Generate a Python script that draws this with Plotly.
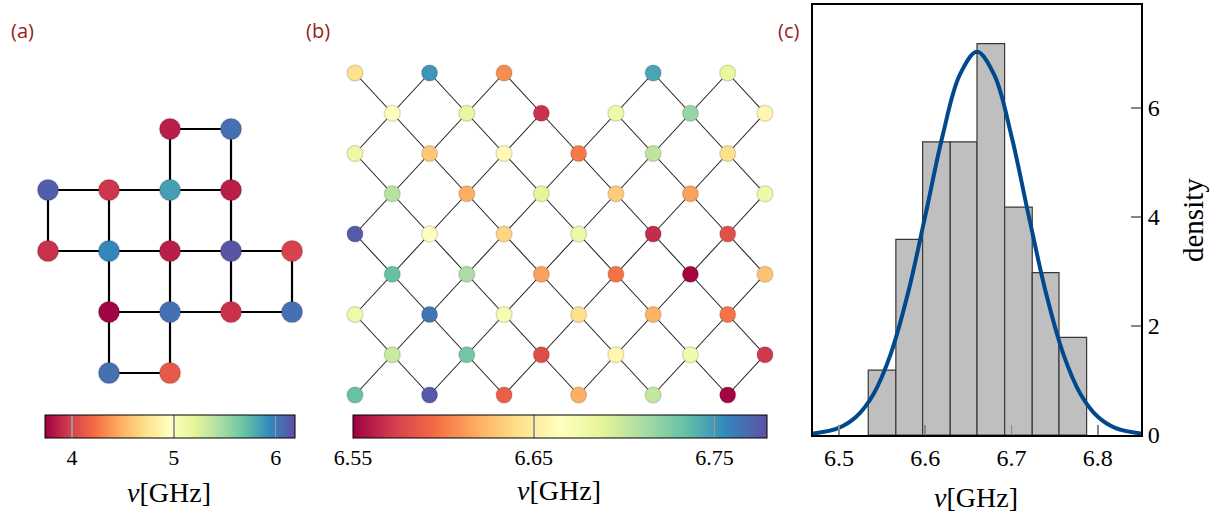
import plotly.graph_objects as go

W, H = 1219, 514

# ---------------- Panel (a): small lattice of qubits ----------------
a_cols = [2, 3, 0, 1, 2, 3, 0, 1, 2, 3, 4, 1, 2, 3, 4, 1, 2]
a_rows = [0, 0, 1, 1, 1, 1, 2, 2, 2, 2, 2, 3, 3, 3, 3, 4, 4]
a_freq = [3.85, 6.05, 6.12, 3.95, 5.85, 3.85, 3.93, 5.95, 3.85, 6.17, 4.00,
          3.75, 6.05, 3.93, 6.05, 6.05, 4.12]
a_cmin, a_cmax = 3.735, 6.19
a_ticks = [4, 5, 6]

# ---------------- Panel (b): diagonal lattice ----------------
b_row_cols = [
    [0, 2, 4, 8, 10],
    [1, 3, 5, 7, 9, 11],
    [0, 2, 4, 6, 8, 10],
    [1, 3, 5, 7, 9, 11],
    [0, 2, 4, 6, 8, 10],
    [1, 3, 5, 7, 9, 11],
    [0, 2, 4, 6, 8, 10],
    [1, 3, 5, 7, 9, 11],
    [0, 2, 4, 6, 8, 10],
]
b_row_freq = [
    [6.642, 6.751, 6.607, 6.745, 6.683],
    [6.665, 6.683, 6.568, 6.678, 6.717, 6.658],
    [6.680, 6.630, 6.660, 6.600, 6.703, 6.642],
    [6.706, 6.619, 6.687, 6.632, 6.614, 6.678],
    [6.774, 6.665, 6.637, 6.680, 6.566, 6.582],
    [6.733, 6.710, 6.614, 6.598, 6.552, 6.628],
    [6.678, 6.763, 6.674, 6.642, 6.621, 6.598],
    [6.699, 6.729, 6.580, 6.658, 6.676, 6.571],
    [6.733, 6.774, 6.589, 6.619, 6.701, 6.552],
]
b_cmin, b_cmax = 6.55, 6.779
b_ticks = [6.55, 6.65, 6.75]
b_ticktext = ["6.55", "6.65", "6.75"]

# ---------------- Panel (c): histogram + gaussian ----------------
hist_edges = [6.534, 6.566, 6.597, 6.629, 6.660, 6.692, 6.724, 6.755, 6.787]
hist_density = [1.19, 3.59, 5.38, 5.38, 7.18, 4.18, 2.98, 1.79]
fit_x = [6.47, 6.50, 6.52, 6.54, 6.56, 6.58, 6.60, 6.62, 6.64, 6.66,
         6.68, 6.70, 6.72, 6.74, 6.76, 6.78, 6.80, 6.82, 6.85]
fit_y = [0.026, 0.131, 0.334, 0.749, 1.485, 2.599, 4.016, 5.481, 6.606, 7.03,
         6.606, 5.481, 4.016, 2.599, 1.485, 0.749, 0.334, 0.131, 0.026]
c_xticks = [6.5, 6.6, 6.7, 6.8]
c_yticks = [0, 2, 4, 6]

SERIF = "Liberation Serif"
LABEL_RED = "#9b1c1c"


def px(x):
    return x / W


def py(y):
    return 1 - y / H


fig = go.Figure()

# ---- (a) edges
ax_e, ay_e = [], []
n = len(a_cols)
for i in range(n):
    for j in range(i + 1, n):
        if abs(a_cols[i] - a_cols[j]) + abs(a_rows[i] - a_rows[j]) == 1:
            ax_e += [a_cols[i], a_cols[j], None]
            ay_e += [-a_rows[i], -a_rows[j], None]
fig.add_trace(go.Scatter(x=ax_e, y=ay_e, mode="lines",
                         line=dict(color="black", width=2.2),
                         hoverinfo="skip", showlegend=False,
                         xaxis="x", yaxis="y"))
fig.add_trace(go.Scatter(x=a_cols, y=[-r for r in a_rows], mode="markers",
                         marker=dict(size=21, color=a_freq, coloraxis="coloraxis",
                                     line=dict(color="rgba(0,0,0,0.13)", width=1.5)),
                         showlegend=False, xaxis="x", yaxis="y"))

# ---- (b) edges
b_cols, b_rows, b_freq = [], [], []
for r, (cols, vals) in enumerate(zip(b_row_cols, b_row_freq)):
    for c, v in zip(cols, vals):
        b_cols.append(c)
        b_rows.append(r)
        b_freq.append(v)
bx_e, by_e = [], []
m = len(b_cols)
for i in range(m):
    for j in range(i + 1, m):
        if abs(b_cols[i] - b_cols[j]) == 1 and abs(b_rows[i] - b_rows[j]) == 1:
            bx_e += [b_cols[i], b_cols[j], None]
            by_e += [-b_rows[i], -b_rows[j], None]
fig.add_trace(go.Scatter(x=bx_e, y=by_e, mode="lines",
                         line=dict(color="#222222", width=1.1),
                         hoverinfo="skip", showlegend=False,
                         xaxis="x2", yaxis="y2"))
fig.add_trace(go.Scatter(x=b_cols, y=[-r for r in b_rows], mode="markers",
                         marker=dict(size=16, color=b_freq, coloraxis="coloraxis2",
                                     line=dict(color="rgba(0,0,0,0.13)", width=1.5)),
                         showlegend=False, xaxis="x2", yaxis="y2"))

# ---- (c) histogram
centers = [(hist_edges[k] + hist_edges[k + 1]) / 2 for k in range(len(hist_density))]
widths = [hist_edges[k + 1] - hist_edges[k] for k in range(len(hist_density))]
fig.add_trace(go.Bar(x=centers, y=hist_density, width=widths,
                     marker=dict(color="#bfbfbf", line=dict(color="#3a3833", width=1.2)),
                     showlegend=False, xaxis="x3", yaxis="y3"))
fig.add_trace(go.Scatter(x=fit_x, y=fit_y, mode="lines",
                         line=dict(color="#00498d", width=4, shape="spline"),
                         showlegend=False, xaxis="x3", yaxis="y3"))

hidden = dict(visible=False, showgrid=False, zeroline=False)


def cbar(x0, x1, tickvals, ticktext):
    return dict(orientation="h", xref="paper", yref="paper",
                x=px((x0 + x1) / 2), xanchor="center",
                y=py(415), yanchor="top",
                len=x1 - x0, lenmode="pixels",
                thickness=23, thicknessmode="pixels",
                xpad=0, ypad=0,
                outlinecolor="black", outlinewidth=1,
                ticks="inside", ticklen=23, tickwidth=1.5, tickcolor="#9a9a9a",
                tickvals=tickvals, ticktext=ticktext,
                tickfont=dict(family=SERIF, size=22, color="black"))


fig.update_layout(
    width=W, height=H, autosize=False,
    margin=dict(l=0, r=0, t=0, b=0, pad=0, autoexpand=False),
    paper_bgcolor="white", plot_bgcolor="white",
    bargap=0,
    xaxis=dict(domain=[px(18), px(323)], range=[-0.4918, 4.508], **hidden),
    yaxis=dict(domain=[py(404), py(99)], range=[-4.508, 0.4918], **hidden),
    xaxis2=dict(domain=[px(330), px(790)],
                range=[(330 - 355) / 37.27, (790 - 355) / 37.27], **hidden),
    yaxis2=dict(domain=[py(410), py(55)],
                range=[-(410 - 73) / 40.25, (73 - 55) / 40.25], **hidden),
    xaxis3=dict(domain=[px(813), px(1141)], range=[6.47, 6.85], anchor="y3",
                showline=True, linecolor="black", linewidth=2, mirror=True,
                ticks="inside", ticklen=10, tickwidth=1.5, tickcolor="#888888",
                tickvals=c_xticks, ticktext=[f"{v:.1f}" for v in c_xticks],
                tickfont=dict(family=SERIF, size=24, color="black"),
                showgrid=False, zeroline=False),
    yaxis3=dict(domain=[py(435), py(5)], range=[0, 7.89], anchor="x3", side="right",
                showline=True, linecolor="black", linewidth=2, mirror=True,
                ticks="inside", ticklen=10, tickwidth=1.5, tickcolor="#888888",
                tickvals=c_yticks, ticktext=[str(v) for v in c_yticks],
                tickfont=dict(family=SERIF, size=24, color="black"),
                showgrid=False, zeroline=False),
    coloraxis=dict(colorscale="Spectral", cmin=a_cmin, cmax=a_cmax,
                   colorbar=cbar(45, 295, a_ticks, [str(v) for v in a_ticks])),
    coloraxis2=dict(colorscale="Spectral", cmin=b_cmin, cmax=b_cmax,
                    colorbar=cbar(353, 767, b_ticks, b_ticktext)),
)

annos = [
    dict(text="(a)", x=px(22), y=py(30)),
    dict(text="(b)", x=px(318), y=py(30)),
    dict(text="(c)", x=px(789), y=py(30)),
]
for a in annos:
    fig.add_annotation(xref="paper", yref="paper", showarrow=False,
                       xanchor="center", yanchor="middle",
                       font=dict(family="Open Sans", size=20, color=LABEL_RED), **a)

for xc, yc in [(169, 492), (559, 490), (976, 497)]:
    fig.add_annotation(xref="paper", yref="paper", showarrow=False,
                       x=px(xc), y=py(yc), xanchor="center", yanchor="middle",
                       text="<i>ν</i>[GHz]",
                       font=dict(family=SERIF, size=28, color="black"))

fig.add_annotation(xref="paper", yref="paper", showarrow=False,
                   x=px(1193), y=py(220), xanchor="center", yanchor="middle",
                   text="density", textangle=-90,
                   font=dict(family=SERIF, size=29, color="black"))

fig.write_html(
    "out.html",
    config={"displayModeBar": False, "staticPlot": True, "responsive": False},
    post_script=(
        "document.documentElement.style.margin='0';"
        "document.body.style.margin='0';"
        "document.body.style.overflow='hidden';"
    ),
)
